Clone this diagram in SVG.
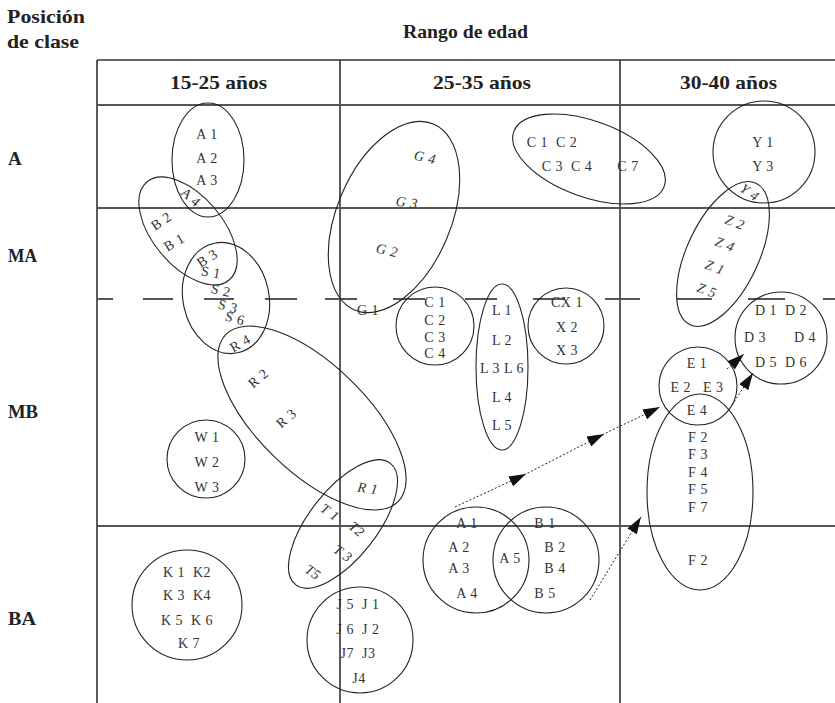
<svg xmlns="http://www.w3.org/2000/svg" width="835" height="703" viewBox="0 0 835 703">
  <style>
    .grid { stroke: #333; stroke-width: 1.6; fill: none; }
    .hline { stroke: #555; stroke-width: 2; fill: none; }
    .ell { fill: none; stroke: #222; stroke-width: 1.1; }
    .lbl { font-family: "Liberation Serif", "DejaVu Serif", serif; font-size: 14px; letter-spacing: 0.5px; fill: #333; text-anchor: middle; }
    .it { font-style: italic; }
    .hdr { font-family: "Liberation Serif", "DejaVu Serif", serif; font-size: 19px; font-weight: bold; fill: #222; }
    .conn { fill: none; stroke: #222; stroke-width: 1; stroke-dasharray: 2 2; }
  </style>
  <defs>
    <marker id="tip" viewBox="0 0 17 11" refX="17" refY="5.5" markerWidth="17" markerHeight="11" markerUnits="userSpaceOnUse" orient="auto">
      <path d="M0,0 L17,5.5 L0,11 Z" fill="#111"/>
    </marker>
  </defs>
  <rect width="835" height="703" fill="#fff"/>

  <!-- headings -->
  <g id="headings">
    <text class="hdr" x="7" y="23" textLength="78" lengthAdjust="spacingAndGlyphs">Posición</text>
    <text class="hdr" x="7" y="48" textLength="72" lengthAdjust="spacingAndGlyphs">de clase</text>
    <text class="hdr" x="403" y="38" textLength="125" lengthAdjust="spacingAndGlyphs">Rango de edad</text>
    <text class="hdr" x="170" y="89" textLength="97" lengthAdjust="spacingAndGlyphs">15-25 años</text>
    <text class="hdr" x="433" y="89" textLength="98" lengthAdjust="spacingAndGlyphs">25-35 años</text>
    <text class="hdr" x="680" y="89" textLength="97" lengthAdjust="spacingAndGlyphs">30-40 años</text>
    <text class="hdr" x="8" y="165">A</text>
    <text class="hdr" x="8" y="262" textLength="29" lengthAdjust="spacingAndGlyphs">MA</text>
    <text class="hdr" x="8" y="418" textLength="30" lengthAdjust="spacingAndGlyphs">MB</text>
    <text class="hdr" x="8" y="625" textLength="28" lengthAdjust="spacingAndGlyphs">BA</text>
  </g>

  <!-- table grid -->
  <g id="grid">
    <line class="grid" x1="97" y1="60" x2="835" y2="60"/>
    <line class="grid" x1="97" y1="60" x2="97" y2="703"/>
    <line class="grid" x1="340" y1="60" x2="340" y2="703"/>
    <line class="grid" x1="620" y1="60" x2="620" y2="703"/>
    <line class="hline" x1="97" y1="105" x2="835" y2="105"/>
    <line class="hline" x1="97" y1="208" x2="835" y2="208"/>
    <line class="hline" x1="97" y1="526" x2="835" y2="526"/>
    <path class="hline" d="M97,299H113 M143,299H173 M204,299H234 M265,299H297 M325,299H357 M393,299H425 M465,299H497 M533,299H565 M605,299H640 M677,299H712 M748,299H785 M823,299H835"/>
  </g>

  <!-- groups -->
  <g id="grupo-a">
    <ellipse class="ell" cx="208" cy="160" rx="36" ry="57"/>
    <text class="lbl" x="207" y="139">A 1</text>
    <text class="lbl" x="207" y="163">A 2</text>
    <text class="lbl" x="207" y="185">A 3</text>
    <text class="lbl" transform="translate(191,197) rotate(41)" dy="5">A 4</text>
  </g>

  <g id="grupo-b">
    <ellipse class="ell" cx="188" cy="231" rx="64" ry="35" transform="rotate(50 188 231)"/>
    <text class="lbl" transform="translate(161,221) rotate(-34)" dy="5">B 2</text>
    <text class="lbl" transform="translate(174,242) rotate(-30)" dy="5">B 1</text>
    <text class="lbl" transform="translate(207,258) rotate(-33)" dy="5">B 3</text>
  </g>

  <g id="grupo-s">
    <ellipse class="ell" cx="226" cy="298" rx="43" ry="56" transform="rotate(-12 226 298)"/>
    <text class="lbl" transform="translate(211,272) rotate(10)" dy="5">S 1</text>
    <text class="lbl" transform="translate(221,290) rotate(12)" dy="5">S 2</text>
    <text class="lbl" transform="translate(228,306) rotate(15)" dy="5">S 3</text>
    <text class="lbl" transform="translate(235,318) rotate(15)" dy="5">S 6</text>
  </g>

  <g id="grupo-r">
    <ellipse class="ell" cx="312" cy="418" rx="120" ry="54" transform="rotate(44 312 418)"/>
    <text class="lbl" transform="translate(240,343) rotate(-30)" dy="5">R 4</text>
    <text class="lbl" transform="translate(258,378) rotate(-40)" dy="5">R 2</text>
    <text class="lbl" transform="translate(286,418) rotate(-40)" dy="5">R 3</text>
  </g>

  <g id="grupo-t">
    <ellipse class="ell" cx="343" cy="524" rx="77" ry="34" transform="rotate(-52 343 524)"/>
    <text class="lbl it" transform="translate(368,488) rotate(8)" dy="5">R 1</text>
    <text class="lbl it" transform="translate(330,512) rotate(35)" dy="5">T 1</text>
    <text class="lbl it" transform="translate(357,529) rotate(40)" dy="5">T2</text>
    <text class="lbl it" transform="translate(343,553) rotate(35)" dy="5">T 3</text>
    <text class="lbl it" transform="translate(313,572) rotate(35)" dy="5">T5</text>
  </g>

  <g id="grupo-w">
    <circle class="ell" cx="206" cy="459" r="39"/>
    <text class="lbl" x="207" y="442">W 1</text>
    <text class="lbl" x="207" y="467">W 2</text>
    <text class="lbl" x="207" y="492">W 3</text>
  </g>

  <g id="grupo-k">
    <circle class="ell" cx="187" cy="605" r="55"/>
    <text class="lbl" x="187" y="577" xml:space="preserve">K 1  K2</text>
    <text class="lbl" x="187" y="600" xml:space="preserve">K 3  K4</text>
    <text class="lbl" x="187" y="625" xml:space="preserve">K 5  K 6</text>
    <text class="lbl" x="189" y="648">K 7</text>
  </g>

  <g id="grupo-j">
    <circle class="ell" cx="360" cy="640" r="53"/>
    <text class="lbl" x="358" y="609" xml:space="preserve">J 5  J 1</text>
    <text class="lbl" x="358" y="634" xml:space="preserve">J 6  J 2</text>
    <text class="lbl" x="358" y="658" xml:space="preserve">J7  J3</text>
    <text class="lbl" x="359" y="683">J4</text>
  </g>

  <g id="grupo-g">
    <ellipse class="ell" cx="394" cy="217" rx="101" ry="57" transform="rotate(-67 394 217)"/>
    <text class="lbl it" transform="translate(425,157) rotate(12)" dy="5">G 4</text>
    <text class="lbl it" transform="translate(407,202) rotate(8)" dy="5">G 3</text>
    <text class="lbl it" transform="translate(387,250) rotate(12)" dy="5">G 2</text>
    <text class="lbl" transform="translate(368,310)" dy="5">G 1</text>
  </g>

  <g id="grupo-c4">
    <circle class="ell" cx="435" cy="326" r="39"/>
    <text class="lbl" x="435" y="307">C 1</text>
    <text class="lbl" x="435" y="325">C 2</text>
    <text class="lbl" x="435" y="342">C 3</text>
    <text class="lbl" x="435" y="358">C 4</text>
  </g>

  <g id="grupo-l">
    <ellipse class="ell" cx="502" cy="367" rx="26" ry="83"/>
    <text class="lbl" x="502" y="315">L 1</text>
    <text class="lbl" x="502" y="345">L 2</text>
    <text class="lbl" x="502" y="373">L 3 L 6</text>
    <text class="lbl" x="502" y="402">L 4</text>
    <text class="lbl" x="502" y="430">L 5</text>
  </g>

  <g id="grupo-x">
    <circle class="ell" cx="566" cy="326" r="38"/>
    <text class="lbl" x="567" y="307">CX 1</text>
    <text class="lbl" x="567" y="332">X 2</text>
    <text class="lbl" x="567" y="355">X 3</text>
  </g>

  <g id="grupo-c">
    <ellipse class="ell" cx="589" cy="159" rx="80" ry="38" transform="rotate(20 589 159)"/>
    <text class="lbl" x="552" y="147" xml:space="preserve">C 1  C 2</text>
    <text class="lbl" x="567" y="171" xml:space="preserve">C 3  C 4</text>
    <text class="lbl" x="628" y="171">C 7</text>
  </g>

  <g id="grupo-y">
    <circle class="ell" cx="764" cy="152" r="51"/>
    <text class="lbl" x="763" y="147">Y 1</text>
    <text class="lbl" x="763" y="171">Y 3</text>
    <text class="lbl it" transform="translate(750,192) rotate(35)" dy="5">Y 4</text>
  </g>

  <g id="grupo-z">
    <ellipse class="ell" cx="723" cy="254" rx="78" ry="36" transform="rotate(-65 723 254)"/>
    <text class="lbl it" transform="translate(735,222) rotate(20)" dy="5">Z 2</text>
    <text class="lbl it" transform="translate(725,244) rotate(20)" dy="5">Z 4</text>
    <text class="lbl it" transform="translate(715,267) rotate(20)" dy="5">Z 1</text>
    <text class="lbl it" transform="translate(707,290) rotate(20)" dy="5">Z 5</text>
  </g>

  <g id="grupo-d">
    <circle class="ell" cx="781" cy="338" r="46"/>
    <text class="lbl" x="781" y="315" xml:space="preserve">D 1  D 2</text>
    <text class="lbl" x="755" y="342">D 3</text>
    <text class="lbl" x="805" y="342">D 4</text>
    <text class="lbl" x="781" y="367" xml:space="preserve">D 5  D 6</text>
  </g>

  <g id="grupo-e">
    <circle class="ell" cx="698" cy="386" r="39"/>
    <text class="lbl" x="697" y="368">E 1</text>
    <text class="lbl" x="697" y="392" xml:space="preserve">E 2   E 3</text>
    <text class="lbl" x="697" y="415">E 4</text>
  </g>

  <g id="grupo-f">
    <ellipse class="ell" cx="700" cy="492" rx="53" ry="98"/>
    <text class="lbl" x="698" y="442">F 2</text>
    <text class="lbl" x="698" y="459">F 3</text>
    <text class="lbl" x="698" y="477">F 4</text>
    <text class="lbl" x="698" y="494">F 5</text>
    <text class="lbl" x="698" y="512">F 7</text>
    <text class="lbl" x="698" y="565">F 2</text>
  </g>

  <g id="grupo-a-bajo">
    <circle class="ell" cx="476" cy="560" r="53"/>
    <text class="lbl" x="467" y="528">A 1</text>
    <text class="lbl" x="459" y="552">A 2</text>
    <text class="lbl" x="459" y="573">A 3</text>
    <text class="lbl" x="467" y="598">A 4</text>
    <text class="lbl" x="510" y="563">A 5</text>
  </g>

  <g id="grupo-b-bajo">
    <circle class="ell" cx="546" cy="560" r="53"/>
    <text class="lbl" x="545" y="528">B 1</text>
    <text class="lbl" x="555" y="552">B 2</text>
    <text class="lbl" x="555" y="573">B 4</text>
    <text class="lbl" x="545" y="598">B 5</text>
  </g>

  <!-- movement arrows -->
  <g id="conectores">
    <polyline class="conn" points="455,507 526,474 604,434 660,407" marker-mid="url(#tip)" marker-end="url(#tip)"/>
    <line class="conn" x1="590" y1="600" x2="641" y2="517" marker-end="url(#tip)"/>
    <line class="conn" x1="727" y1="369" x2="744" y2="354" marker-end="url(#tip)"/>
    <line class="conn" x1="732" y1="405" x2="753" y2="373" marker-end="url(#tip)"/>
  </g>
</svg>
